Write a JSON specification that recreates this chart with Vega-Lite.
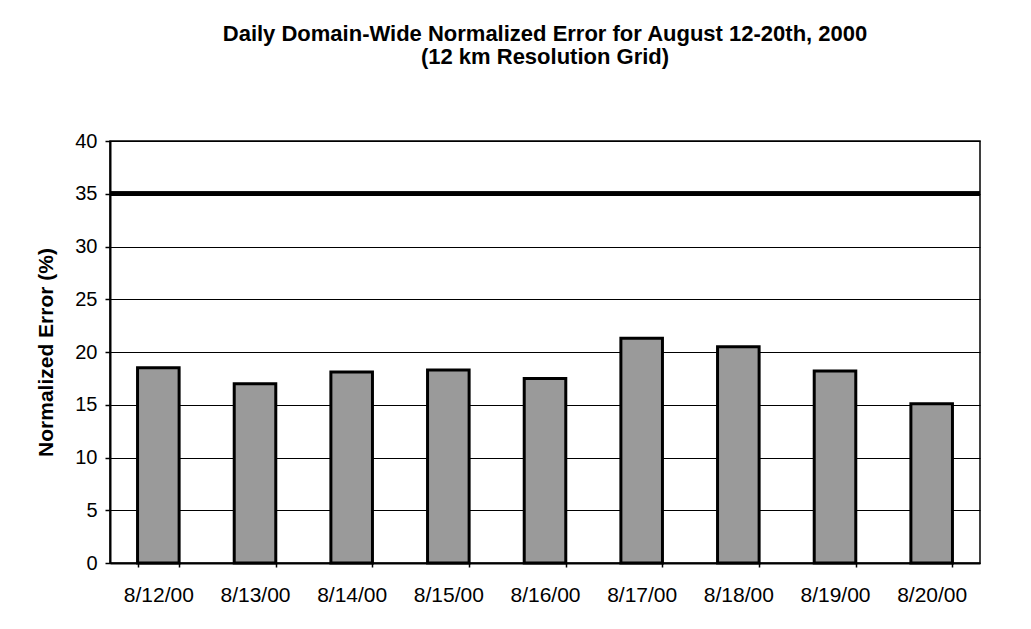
{
  "$schema": "https://vega.github.io/schema/vega-lite/v6.json",
  "width": 870,
  "height": 422,
  "autosize": {"type": "none"},
  "padding": {"left": 110, "top": 141, "right": 51, "bottom": 66},
  "background": "white",
  "title": {
    "text": ["Daily Domain-Wide Normalized Error for August 12-20th, 2000", "(12 km Resolution Grid)"],
    "font": "Liberation Sans",
    "fontSize": 22,
    "fontWeight": "bold",
    "color": "black",
    "anchor": "middle",
    "offset": 62,
    "lineHeight": 23
  },
  "data": {
    "values": [
      {"date": "8/12/00", "error": 18.5},
      {"date": "8/13/00", "error": 17.0},
      {"date": "8/14/00", "error": 18.1},
      {"date": "8/15/00", "error": 18.3},
      {"date": "8/16/00", "error": 17.5},
      {"date": "8/17/00", "error": 21.3},
      {"date": "8/18/00", "error": 20.5},
      {"date": "8/19/00", "error": 18.2},
      {"date": "8/20/00", "error": 15.1}
    ]
  },
  "layer": [
    {
      "mark": {"type": "bar", "color": "#9a9a9a", "stroke": "black", "strokeWidth": 3},
      "encoding": {
        "x": {
          "field": "date",
          "type": "nominal",
          "sort": null,
          "scale": {"paddingInner": 0.57, "paddingOuter": 0.285},
          "axis": {
            "title": null,
            "labelAngle": 0,
            "labelFont": "Liberation Sans",
            "labelFontSize": 21,
            "labelColor": "black",
            "labelPadding": 17,
            "tickBand": "extent",
            "tickSize": 4,
            "tickColor": "black",
            "tickWidth": 1.5,
            "domainColor": "black",
            "domainWidth": 2,
            "grid": false
          }
        },
        "y": {
          "field": "error",
          "type": "quantitative",
          "scale": {"domain": [0, 40], "nice": false},
          "axis": {
            "title": "Normalized Error (%)",
            "titleFont": "Liberation Sans",
            "titleFontSize": 21,
            "titleFontWeight": "bold",
            "titleColor": "black",
            "titlePadding": 18,
            "values": [0, 5, 10, 15, 20, 25, 30, 35, 40],
            "labelFont": "Liberation Sans",
            "labelFontSize": 20,
            "labelColor": "black",
            "labelPadding": 8,
            "tickSize": 5,
            "tickColor": "black",
            "tickWidth": 1.5,
            "domainColor": "black",
            "domainWidth": 2,
            "grid": true,
            "gridColor": "black",
            "gridWidth": 1.2,
            "gridOpacity": 1
          }
        }
      }
    },
    {
      "mark": {"type": "rule", "color": "black", "strokeWidth": 4},
      "encoding": {"y": {"datum": 35}}
    }
  ],
  "config": {
    "view": {"stroke": "black", "strokeWidth": 1.5}
  }
}
